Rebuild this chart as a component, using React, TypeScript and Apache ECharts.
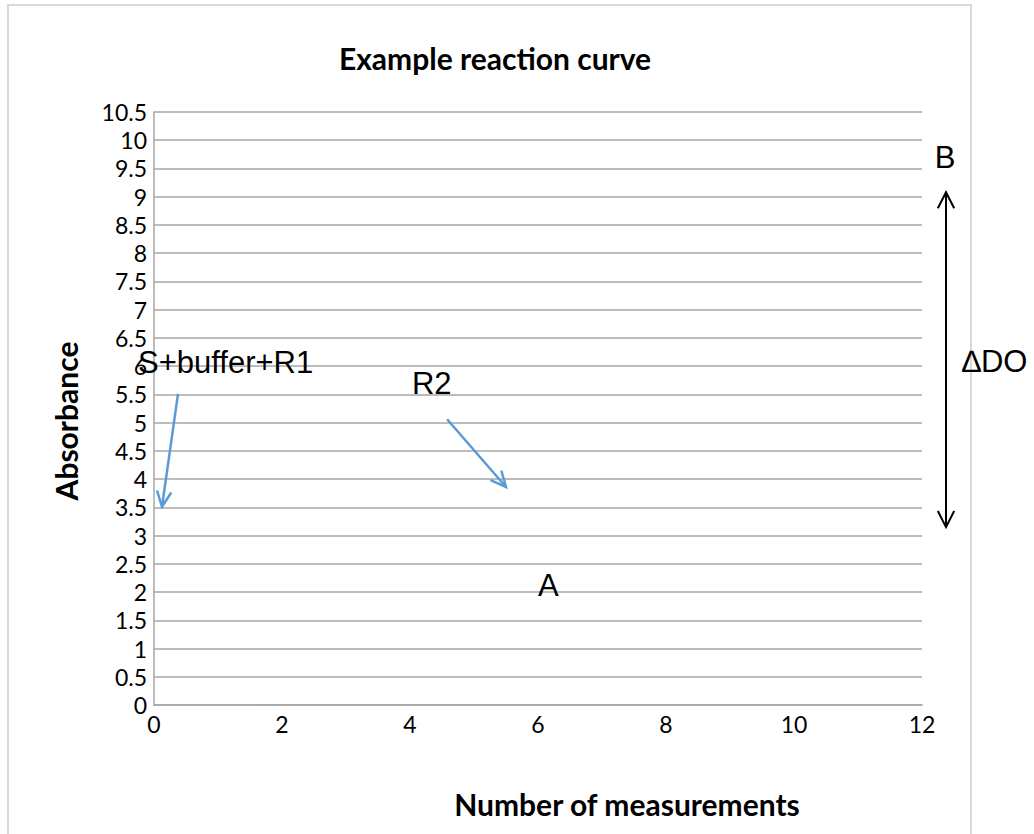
import React, { useEffect, useRef } from "react";
import * as echarts from "echarts";

// ---- data ----
const titleText = "Example reaction curve";
const xAxisTitle = "Number of measurements";
const yAxisTitle = "Absorbance";
const xMin = 0;
const xMax = 12;
const xStep = 2;
const yMin = 0;
const yMax = 10.5;
const yStep = 0.5;

// annotation arrows, in data coordinates (start -> tip)
const arrowStartX = [0.375, 4.58, 12.375];
const arrowStartY = [5.51, 5.06, 3.15];
const arrowEndX = [0.125, 5.5, 12.375];
const arrowEndY = [3.51, 3.86, 9.08];
const arrowDoubleHeaded = [0, 0, 1];

// annotation labels, in data coordinates (left edge, vertical middle)
const labelTexts = ["S+buffer+R1", "R2", "A", "B", "\u2206DO"];
const labelX = [-0.25, 4.03, 6.0, 12.2, 12.625];
const labelY = [6.07, 5.7, 2.12, 9.7, 6.09];

const App: React.FC = () => {
  const ref = useRef<HTMLDivElement>(null);

  useEffect(() => {
    if (!ref.current) return;
    const chart = echarts.init(ref.current, undefined, { renderer: "svg" });

    const arrowData = arrowStartX.map((x, i) => [x, arrowStartY[i], arrowEndX[i], arrowEndY[i], i]);
    const labelData = labelX.map((x, i) => [x, labelY[i], i]);

    const headPts = (tip: number[], from: number[], len: number, ang: number) => {
      const a = Math.atan2(from[1] - tip[1], from[0] - tip[0]);
      return [
        [tip[0] + len * Math.cos(a + ang), tip[1] + len * Math.sin(a + ang)],
        [tip[0], tip[1]],
        [tip[0] + len * Math.cos(a - ang), tip[1] + len * Math.sin(a - ang)],
      ];
    };

    const gridColor = "#a6a6a6";
    const tickFont = "Lato, 'Open Sans', sans-serif";

    chart.setOption({
      animation: false,
      backgroundColor: "#ffffff",
      title: {
        text: titleText,
        left: 490,
        top: 38,
        textAlign: "center",
        textStyle: { fontFamily: tickFont, fontWeight: "bold", fontSize: 30, color: "#000" },
      },
      grid: { left: 154, right: 112, top: 112, bottom: 129, containLabel: false },
      xAxis: {
        type: "value",
        min: xMin,
        max: xMax,
        interval: xStep,
        axisLine: { show: true, lineStyle: { color: gridColor, width: 1.5 } },
        axisTick: { show: false },
        splitLine: { show: false },
        axisLabel: { color: "#000", fontFamily: tickFont, fontSize: 23, margin: 7 },
      },
      yAxis: {
        type: "value",
        min: yMin,
        max: yMax,
        interval: yStep,
        axisLine: { show: true, lineStyle: { color: gridColor, width: 1.5 } },
        axisTick: { show: false },
        splitLine: { show: true, lineStyle: { color: gridColor, width: 1.5 } },
        axisLabel: { color: "#000", fontFamily: tickFont, fontSize: 23, margin: 7 },
      },
      graphic: [
        {
          type: "rect",
          shape: { x: 8, y: 5, width: 963, height: 845 },
          style: { fill: "none", stroke: "#d9d9d9", lineWidth: 2 },
          silent: true,
        },
        {
          type: "text",
          x: 66,
          y: 421,
          rotation: Math.PI / 2,
          style: {
            text: yAxisTitle,
            fontFamily: tickFont,
            fontWeight: "bold",
            fontSize: 30,
            fill: "#000",
            align: "center",
            verticalAlign: "middle",
          },
        },
        {
          type: "text",
          x: 627,
          y: 804,
          style: {
            text: xAxisTitle,
            fontFamily: tickFont,
            fontWeight: "bold",
            fontSize: 30,
            fill: "#000",
            align: "center",
            verticalAlign: "middle",
          },
        },
      ],
      series: [
        {
          type: "custom",
          clip: false,
          silent: true,
          data: arrowData,
          renderItem: (_params: any, api: any) => {
            const i = api.value(4) as number;
            const p1 = api.coord([api.value(0), api.value(1)]);
            const p2 = api.coord([api.value(2), api.value(3)]);
            const dbl = arrowDoubleHeaded[i] === 1;
            const color = dbl ? "#000000" : "#5b9bd5";
            const lw = dbl ? 2 : 2.5;
            const len = dbl ? 18 : 17;
            const ang = (dbl ? 27 : 25) * (Math.PI / 180);
            const children: any[] = [
              { type: "line", shape: { x1: p1[0], y1: p1[1], x2: p2[0], y2: p2[1] }, style: { stroke: color, lineWidth: lw } },
              { type: "polyline", shape: { points: headPts(p2, p1, len, ang) }, style: { stroke: color, lineWidth: lw, fill: "none" } },
            ];
            if (dbl) {
              children.push({ type: "polyline", shape: { points: headPts(p1, p2, len, ang) }, style: { stroke: color, lineWidth: lw, fill: "none" } });
            }
            return { type: "group", children };
          },
          z: 5,
        },
        {
          type: "custom",
          clip: false,
          silent: true,
          data: labelData,
          renderItem: (_params: any, api: any) => {
            const i = api.value(2) as number;
            const p = api.coord([api.value(0), api.value(1)]);
            return {
              type: "text",
              x: p[0],
              y: p[1],
              style: {
                text: labelTexts[i],
                fontFamily: "'Liberation Sans', Arial, sans-serif",
                fontSize: 31,
                fill: "#000",
                align: "left",
                verticalAlign: "middle",
              },
            };
          },
          z: 6,
        },
      ],
    });

    return () => chart.dispose();
  }, []);

  return (
    <div
      ref={ref}
      style={{ position: "fixed", left: 0, top: 0, width: 1034, height: 834, background: "#fff" }}
    />
  );
};

export default App;
